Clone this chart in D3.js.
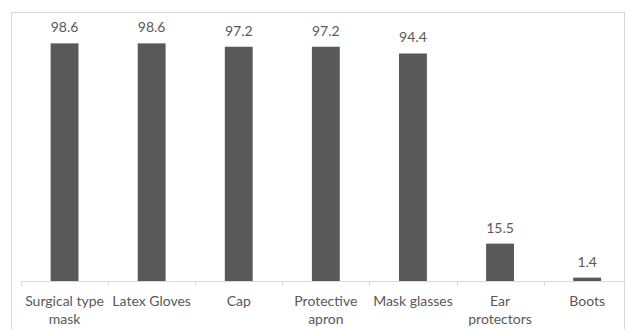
<!DOCTYPE html>
<html>
<head>
<meta charset="utf-8">
<script src="https://cdn.jsdelivr.net/npm/d3@7"></script>
<style>
  html, body { margin: 0; padding: 0; background: #fff; }
  svg { display: block; }
  text { font-family: Lato, "Open Sans", sans-serif; fill: #595959; }
</style>
</head>
<body>
<svg id="chart" width="626" height="329"></svg>
<script>
// Share of respondents using each item of protective equipment (%)
const categories = ["Surgical type mask", "Latex Gloves", "Cap", "Protective apron", "Mask glasses", "Ear protectors", "Boots"];
const values = [98.6, 98.6, 97.2, 97.2, 94.4, 15.5, 1.4];
const valueLabels = ["98.6", "98.6", "97.2", "97.2", "94.4", "15.5", "1.4"];

const svg = d3.select("#chart");

// chart frame
svg.append("rect")
  .attr("x", 11.5).attr("y", 12.5)
  .attr("width", 613).attr("height", 330)
  .attr("fill", "none").attr("stroke", "#d9d9d9").attr("stroke-width", 1);

const x0 = 21, step = 87.1;
const x = d3.scaleBand()
  .domain(categories)
  .range([x0, x0 + step * categories.length])
  .paddingInner(0.68).paddingOuter(0.34);

const y = d3.scaleLinear().domain([0, 100]).range([281, 40]);

// bars
svg.append("g").selectAll("rect")
  .data(categories)
  .join("rect")
  .attr("x", d => x(d))
  .attr("width", x.bandwidth())
  .attr("y", (d, i) => y(values[i]))
  .attr("height", (d, i) => y(0) - y(values[i]))
  .attr("fill", "#595959");

// value labels
svg.append("g").selectAll("text")
  .data(categories)
  .join("text")
  .attr("x", d => x(d) + x.bandwidth() / 2)
  .attr("y", (d, i) => y(values[i]) - 11)
  .attr("text-anchor", "middle")
  .attr("font-size", 14)
  .text((d, i) => valueLabels[i]);

// category axis
const axisY = 281.5;
svg.append("line")
  .attr("x1", x0).attr("x2", 626)
  .attr("y1", axisY).attr("y2", axisY)
  .attr("stroke", "#d9d9d9");

svg.append("g").selectAll("line")
  .data(d3.range(categories.length + 1))
  .join("line")
  .attr("x1", i => Math.round(x0 + i * step) + 0.5)
  .attr("x2", i => Math.round(x0 + i * step) + 0.5)
  .attr("y1", axisY).attr("y2", axisY + 4)
  .attr("stroke", "#d9d9d9");

// category labels, wrapped to the band width
const labels = svg.append("g").selectAll("text")
  .data(categories)
  .join("text")
  .attr("x", d => x(d) + x.bandwidth() / 2)
  .attr("y", 306)
  .attr("text-anchor", "middle")
  .attr("font-size", 14);

labels.each(function (d) {
  const t = d3.select(this);
  const cx = +t.attr("x");
  const words = d.split(" ");
  let line = [];
  let lines = [];
  let tspan = t.append("tspan").attr("x", cx);
  for (const w of words) {
    line.push(w);
    tspan.text(line.join(" "));
    if (tspan.node().getComputedTextLength() > 81 && line.length > 1) {
      line.pop();
      tspan.text(line.join(" "));
      lines.push(tspan);
      line = [w];
      tspan = t.append("tspan").attr("x", cx).attr("dy", 18).text(w);
    }
  }
});
</script>
</body>
</html>
